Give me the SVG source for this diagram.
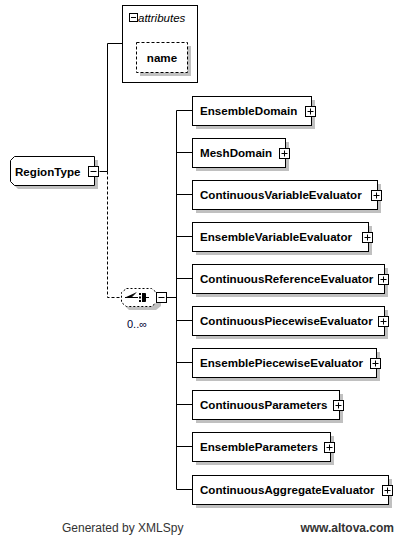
<svg xmlns="http://www.w3.org/2000/svg" width="403" height="537" viewBox="0 0 403 537">
  <style>
    .box { fill: #fff; stroke: #000; stroke-width: 1; }
    .shadow { fill: #c0c0c0; }
    .conn { fill: none; stroke: #000; stroke-width: 1; }
    .dash { fill: none; stroke: #000; stroke-width: 1; stroke-dasharray: 3 2; }
    .lbl { font-family: "Liberation Sans", Arial, sans-serif; font-weight: bold; font-size: 11.6px; fill: #000; }
    .btn { fill: #fff; stroke: #000; stroke-width: 1; }
    .sign { stroke: #000; stroke-width: 1; }
    .foot { font-family: "Liberation Sans", Arial, sans-serif; font-size: 12px; fill: #333; }
  </style>
  <defs>
    <g id="plus">
      <rect class="btn" x="-5" y="-5" width="10" height="10"/>
      <path class="sign" d="M-3 0H3M0 -3V3"/>
    </g>
    <g id="minus">
      <rect class="btn" x="-5" y="-5" width="10" height="10"/>
      <path class="sign" d="M-3 0H3"/>
    </g>
  </defs>

  <rect width="403" height="537" fill="#fff"/>

  <!-- connectors -->
  <g id="connectors">
    <path class="conn" d="M99.5 171.5H107.5V43.5H122"/>
    <path class="dash" d="M107.5 171.5V297.5H121"/>
    <path class="conn" d="M166 297.5H176.5"/>
    <path class="conn" d="M176.5 110.5V489.5"/>
    <path class="conn" d="M176.5 110.5H192M176.5 152.5H192M176.5 194.5H192M176.5 236.5H192M176.5 278.5H192M176.5 320.5H192M176.5 362.5H192M176.5 404.5H192M176.5 446.5H192M176.5 489.5H192"/>
  </g>

  <!-- attributes -->
  <g id="attributes">
    <rect class="box" x="122.5" y="5.5" width="75" height="77"/>
    <g transform="translate(133.5,17.5)">
      <rect class="btn" x="-4" y="-4" width="8" height="8"/>
      <path class="sign" d="M-2.5 0H2.5"/>
    </g>
    <text x="138" y="22" font-family="Liberation Sans, Arial, sans-serif" font-style="italic" font-size="11.5px" fill="#000">attributes</text>
  </g>
  <g id="attr-name">
    <rect class="shadow" x="140" y="46" width="51" height="30"/>
    <rect x="136.5" y="42.5" width="51" height="30" fill="#fff" stroke="#000" stroke-dasharray="3 2"/>
    <text class="lbl" x="162" y="62" text-anchor="middle">name</text>
  </g>

  <!-- root type -->
  <g id="RegionType">
    <path class="shadow" d="M18 160H98V189H18L14 185V164Z"/>
    <path class="box" d="M14.5 156.5H94.5V185.5H14.5L10.5 181.5V160.5Z"/>
    <text class="lbl" x="15" y="176">RegionType</text>
    <use href="#minus" x="93.5" y="171.5"/>
  </g>

  <!-- sequence compositor -->
  <g id="sequence">
    <path class="shadow" d="M129 294H156L161 298V306L156 310H129L125 306V298Z"/>
    <path d="M126.5 288.5H151.5L156.5 292.5V302.5L151.5 306.5H126.5L121.5 302.5V292.5Z" fill="#fff" stroke="#000" stroke-dasharray="2 2"/>
    <path class="sign" d="M125 297.5H131L136 292.5"/>
    <path class="sign" d="M138 297.5H131"/>
    <rect x="139" y="293" width="2" height="2" fill="#000"/>
    <rect x="139" y="296.5" width="2" height="2" fill="#000"/>
    <rect x="139" y="300" width="2" height="2" fill="#000"/>
    <path class="sign" d="M142 293.5H145.5V301.5H142M145.5 297.5H149"/>
    <use href="#minus" x="161.5" y="297.5"/>
    <text x="127" y="328" font-family="Liberation Sans, Arial, sans-serif" font-size="11px" fill="#000033">0..∞</text>
  </g>

  <!-- child elements -->
  <g id="EnsembleDomain">
    <rect class="shadow" x="196" y="100" width="119" height="29"/>
    <rect class="box" x="192.5" y="96.5" width="119" height="29"/>
    <text class="lbl" x="200" y="115">EnsembleDomain</text>
    <use href="#plus" x="310.5" y="111.5"/>
  </g>
  <g id="MeshDomain">
    <rect class="shadow" x="196" y="142" width="93" height="29"/>
    <rect class="box" x="192.5" y="138.5" width="93" height="29"/>
    <text class="lbl" x="200" y="157">MeshDomain</text>
    <use href="#plus" x="284.5" y="153.5"/>
  </g>
  <g id="ContinuousVariableEvaluator">
    <rect class="shadow" x="196" y="184" width="185" height="29"/>
    <rect class="box" x="192.5" y="180.5" width="185" height="29"/>
    <text class="lbl" x="200" y="199">ContinuousVariableEvaluator</text>
    <use href="#plus" x="376.5" y="195.5"/>
  </g>
  <g id="EnsembleVariableEvaluator">
    <rect class="shadow" x="196" y="226" width="176" height="29"/>
    <rect class="box" x="192.5" y="222.5" width="176" height="29"/>
    <text class="lbl" x="200" y="241">EnsembleVariableEvaluator</text>
    <use href="#plus" x="367.5" y="237.5"/>
  </g>
  <g id="ContinuousReferenceEvaluator">
    <rect class="shadow" x="196" y="268" width="192" height="29"/>
    <rect class="box" x="192.5" y="264.5" width="192" height="29"/>
    <text class="lbl" x="200" y="283">ContinuousReferenceEvaluator</text>
    <use href="#plus" x="383.5" y="279.5"/>
  </g>
  <g id="ContinuousPiecewiseEvaluator">
    <rect class="shadow" x="196" y="310" width="192" height="29"/>
    <rect class="box" x="192.5" y="306.5" width="192" height="29"/>
    <text class="lbl" x="200" y="325">ContinuousPiecewiseEvaluator</text>
    <use href="#plus" x="383.5" y="321.5"/>
  </g>
  <g id="EnsemblePiecewiseEvaluator">
    <rect class="shadow" x="196" y="352" width="184" height="29"/>
    <rect class="box" x="192.5" y="348.5" width="184" height="29"/>
    <text class="lbl" x="200" y="367">EnsemblePiecewiseEvaluator</text>
    <use href="#plus" x="375.5" y="363.5"/>
  </g>
  <g id="ContinuousParameters">
    <rect class="shadow" x="196" y="394" width="147" height="29"/>
    <rect class="box" x="192.5" y="390.5" width="147" height="29"/>
    <text class="lbl" x="200" y="409">ContinuousParameters</text>
    <use href="#plus" x="338.5" y="405.5"/>
  </g>
  <g id="EnsembleParameters">
    <rect class="shadow" x="196" y="436" width="138" height="29"/>
    <rect class="box" x="192.5" y="432.5" width="138" height="29"/>
    <text class="lbl" x="200" y="451">EnsembleParameters</text>
    <use href="#plus" x="329.5" y="447.5"/>
  </g>
  <g id="ContinuousAggregateEvaluator">
    <rect class="shadow" x="196" y="479" width="196" height="29"/>
    <rect class="box" x="192.5" y="475.5" width="196" height="29"/>
    <text class="lbl" x="200" y="494">ContinuousAggregateEvaluator</text>
    <use href="#plus" x="387.5" y="490.5"/>
  </g>

  <!-- footer -->
  <text class="foot" x="62" y="532">Generated by XMLSpy</text>
  <text class="foot" x="394" y="532" text-anchor="end" font-weight="bold">www.altova.com</text>
</svg>
